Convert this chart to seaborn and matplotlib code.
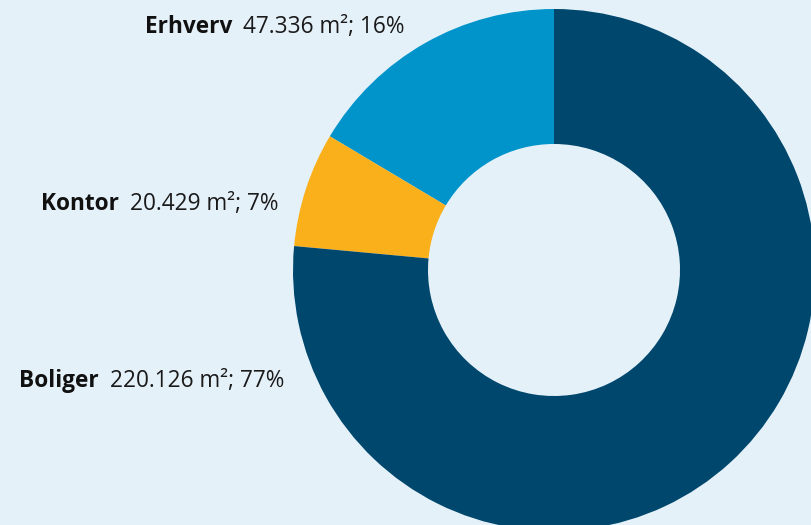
import matplotlib
matplotlib.use("Agg")
import matplotlib.pyplot as plt
import seaborn as sns

categories = ["Erhverv", "Kontor", "Boliger"]
areas = [47336, 20429, 220126]
area_labels = ["47.336", "20.429", "220.126"]
pct_labels = ["16%", "7%", "77%"]

BG = "#e5f1f9"
colors = ["#0094cb", "#f9b01b", "#00476d"]

sns.set_theme(style="white")
plt.rcParams["font.family"] = ["Open Sans", "DejaVu Sans"]

W, H = 812, 525
fig = plt.figure(figsize=(W / 100, H / 100), dpi=100, facecolor=BG)
ax = fig.add_axes([0, 0, 1, 1])
ax.set_facecolor(BG)

cx, cy, R, inner = 554, H - 270, 261, 126
ax.pie(areas, colors=colors, startangle=90, counterclock=True,
       center=(cx, cy), radius=R,
       wedgeprops=dict(width=R - inner, linewidth=0))
ax.set_xlim(0, W)
ax.set_ylim(0, H)
ax.set_aspect("equal")
ax.axis("off")

# label positions (right edge x, vertical centre y in pixels from top)
label_pos = [(405, 27), (279, 204), (284, 381)]
fs = 16.3
fig.canvas.draw()
renderer = fig.canvas.get_renderer()
for cat, a, p, (xr, yc) in zip(categories, area_labels, pct_labels, label_pos):
    t = ax.text(xr, H - yc, f"{a} m²; {p}", ha="right", va="center",
                fontsize=fs, color="#1a1a1a")
    bb = t.get_window_extent(renderer)
    ax.text(bb.x0 - 11, H - yc, cat, ha="right", va="center",
            fontsize=fs, fontweight="bold", color="#111111")

fig.savefig("out.png", dpi=100, facecolor=BG)
